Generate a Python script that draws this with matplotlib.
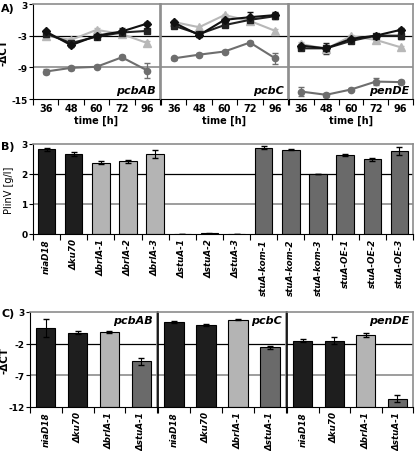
import numpy as np
import matplotlib
matplotlib.use("Agg")
import matplotlib.pyplot as plt

# -------------------------------
# DATA
# -------------------------------
times = ["36", "48", "60", "72", "96"]
genes = ["pcbAB", "pcbC", "penDE"]

# panel A: -dCT over time (niaD18, dku70, dbrlA-1, dstuA-1)
a_niaD18 = [[-2.2, -4.8, -3.0, -2.2, -0.7],
            [-0.5, -2.9, 0.0, 0.5, 0.9],
            [-4.9, -5.4, -3.6, -3.0, -1.9]]
a_ku70 = [[-2.6, -4.4, -3.2, -2.4, -2.1],
          [-1.1, -2.7, -1.0, 0.0, 0.7],
          [-5.4, -5.4, -4.0, -3.0, -3.0]]
a_brlA = [[-3.0, -3.8, -1.9, -2.7, -4.4],
          [-0.4, -1.4, 0.9, -0.2, -2.1],
          [-4.6, -5.5, -3.1, -3.8, -5.2]]
a_stuA = [[-9.8, -9.1, -8.9, -7.1, -9.6],
          [-7.3, -6.6, -6.0, -4.3, -7.3],
          [-13.6, -14.2, -13.2, -11.7, -11.8]]
a_niaD18_err = [[0.3, 0.3, 0.3, 0.3, 0.3],
                [0.3, 0.3, 0.3, 0.9, 0.5],
                [0.3, 0.3, 0.3, 0.3, 0.4]]
a_ku70_err = [[0.3, 0.3, 0.3, 0.9, 0.3],
              [0.3, 0.3, 0.3, 0.3, 0.6],
              [0.4, 1.0, 0.3, 0.3, 0.7]]
a_brlA_err = [[0.3, 0.3, 0.3, 0.3, 0.4],
              [0.3, 0.3, 0.3, 0.3, 0.4],
              [0.4, 0.6, 0.3, 0.3, 0.3]]
a_stuA_err = [[0.4, 0.4, 0.3, 0.4, 1.5],
              [0.3, 0.3, 0.3, 0.3, 1.0],
              [0.8, 0.4, 0.3, 0.7, 0.4]]

# panel B: PlinV production
b_strains = ["niaD18", "Δku70", "ΔbrlA-1", "ΔbrlA-2", "ΔbrlA-3",
             "ΔstuA-1", "ΔstuA-2", "ΔstuA-3",
             "stuA-kom-1", "stuA-kom-2", "stuA-kom-3",
             "stuA-OE-1", "stuA-OE-2", "stuA-OE-3"]
b_values = [2.83, 2.66, 2.38, 2.43, 2.66, 0.0, 0.02, 0.01,
            2.88, 2.81, 2.0, 2.64, 2.49, 2.78]
b_err = [0.05, 0.07, 0.06, 0.05, 0.13, 0.0, 0.03, 0.0,
         0.05, 0.01, 0.01, 0.04, 0.06, 0.13]
b_group = ["wt", "wt", "brlA", "brlA", "brlA", "stuA", "stuA", "stuA",
           "stuA", "stuA", "stuA", "stuA", "stuA", "stuA"]

# panel C: -dCT per strain
c_strains = ["niaD18", "Δku70", "ΔbrlA-1", "ΔstuA-1"]
c_values = [[0.45, -0.25, -0.15, -4.8],
            [1.45, 0.95, 1.8, -2.6],
            [-1.5, -1.5, -0.6, -10.7]]
c_err = [[1.45, 0.3, 0.15, 0.5],
         [0.15, 0.2, 0.1, 0.25],
         [0.25, 0.55, 0.3, 0.55]]
c_group = ["wt", "wt", "brlA", "stuA"]

colors = {"wt": "#1e1e1e", "brlA": "#b4b4b4", "stuA": "#6a6a6a"}
frame_gray = "#8c8c8c"

W, H = 416, 452
fig = plt.figure(figsize=(W / 100, H / 100), dpi=100)


def box(x0, y0, x1, y1):
    # pixel box (top-left origin) -> figure axes
    return fig.add_axes([x0 / W, 1 - y1 / H, (x1 - x0) / W, (y1 - y0) / H])


def style_frame(ax, left_black=False):
    for s in ax.spines.values():
        s.set_color(frame_gray)
        s.set_linewidth(1.2)
    ax.spines["bottom"].set_color("black")
    ax.spines["bottom"].set_linewidth(0.8)
    if left_black:
        ax.spines["left"].set_color("black")
        ax.spines["left"].set_linewidth(0.8)


def cat_ticks(ax, labels, rot=0, italic=False, size=7):
    n = len(labels)
    ax.set_xlim(-0.5, n - 0.5)
    ax.set_xticks(np.arange(n + 1) - 0.5)
    ax.set_xticklabels([])
    ax.set_xticks(np.arange(n), minor=True)
    ax.set_xticklabels(labels, minor=True, rotation=rot, fontsize=size,
                       fontweight="bold", style="italic" if italic else "normal",
                       va="top", ha="center")
    ax.tick_params(axis="x", which="major", direction="out", length=4, width=0.8)
    ax.tick_params(axis="x", which="minor", length=0, pad=3)


# -------------------------------
# PANEL A
# -------------------------------
a_boxes = [(33, 5, 160, 100), (161, 5, 288, 100), (289, 5, 413, 100)]
x = np.arange(len(times))
for i, (x0, y0, x1, y1) in enumerate(a_boxes):
    ax = box(x0, y0, x1, y1)
    ax.axhline(-3, color="black", lw=0.9, zorder=0)
    ax.axhline(-9, color=frame_gray, lw=1.2, zorder=0)
    series = [(a_stuA[i], a_stuA_err[i], "#6e6e6e", "o", 4.5),
              (a_brlA[i], a_brlA_err[i], "#b8b8b8", "^", 5.5),
              (a_ku70[i], a_ku70_err[i], "#222222", "s", 4.5),
              (a_niaD18[i], a_niaD18_err[i], "#111111", "D", 4)]
    for vals, err, col, mk, ms in series:
        ax.errorbar(x, vals, yerr=err, color=col, marker=mk, ms=ms, lw=1.5,
                    ecolor=col, elinewidth=0.9, capsize=2.5)
    ax.set_ylim(-15, 3)
    ax.set_yticks([3, -3, -9, -15])
    cat_ticks(ax, times, size=7)
    ax.set_xlabel("time [h]", fontsize=7, fontweight="bold", labelpad=1)
    ax.text(0.97, 0.04, genes[i], transform=ax.transAxes, ha="right", va="bottom",
            fontsize=8, fontweight="bold", style="italic")
    style_frame(ax, left_black=(i == 0))
    if i == 0:
        ax.set_yticklabels(["3", "-3", "-9", "-15"], fontsize=6.5, fontweight="bold")
        ax.tick_params(axis="y", direction="out", length=3, width=0.8, pad=1)
        ax.set_ylabel("-ΔCT", fontsize=7.5, fontweight="bold")
        ax.yaxis.set_label_coords(-0.19, 0.5)
    else:
        ax.tick_params(axis="y", length=0, labelleft=False)

fig.text(1 / W, 1 - 9 / H, "A)", fontsize=8, fontweight="bold", va="center")

# -------------------------------
# PANEL B
# -------------------------------
ax = box(33, 145, 413, 235)
ax.axhline(2, color="black", lw=0.9, zorder=0)
ax.axhline(1, color=frame_gray, lw=1.2, zorder=0)
xb = np.arange(len(b_strains))
ax.bar(xb, b_values, width=0.64, color=[colors[g] for g in b_group],
       edgecolor="black", linewidth=0.8, zorder=2)
ax.errorbar(xb, b_values, yerr=b_err, fmt="none", ecolor="black",
            elinewidth=0.8, capsize=2.5, zorder=3)
ax.set_ylim(0, 3)
ax.set_yticks([0, 1, 2, 3])
ax.set_yticklabels(["0", "1", "2", "3"], fontsize=6.5, fontweight="bold")
ax.tick_params(axis="y", direction="out", length=3, width=0.8, pad=1)
ax.set_ylabel("PlinV [g/l]", fontsize=7, labelpad=5)
cat_ticks(ax, b_strains, rot=90, italic=True, size=6.3)
style_frame(ax, left_black=True)
fig.text(1 / W, 1 - 147 / H, "B)", fontsize=8, fontweight="bold", va="center")

# -------------------------------
# PANEL C
# -------------------------------
c_boxes = [(30, 313, 157, 408), (158, 313, 286, 408), (287, 313, 413, 408)]
xc = np.arange(len(c_strains))
for i, (x0, y0, x1, y1) in enumerate(c_boxes):
    ax = box(x0, y0, x1, y1)
    ax.axhline(-2, color="black", lw=0.9, zorder=0)
    ax.axhline(-7, color=frame_gray, lw=1.2, zorder=0)
    ax.bar(xc, np.array(c_values[i]) + 12, bottom=-12, width=0.6,
           color=[colors[g] for g in c_group], edgecolor="black",
           linewidth=0.8, zorder=2)
    ax.errorbar(xc, c_values[i], yerr=c_err[i], fmt="none", ecolor="black",
                elinewidth=0.8, capsize=2.5, zorder=3)
    ax.set_ylim(-12, 3)
    ax.set_yticks([3, -2, -7, -12])
    cat_ticks(ax, c_strains, rot=90, italic=True, size=6.3)
    ax.text(0.97, 0.97, genes[i], transform=ax.transAxes, ha="right", va="top",
            fontsize=8, fontweight="bold", style="italic")
    style_frame(ax, left_black=(i == 0))
    if i > 0:
        ax.spines["left"].set_color("black")
    if i == 0:
        ax.set_yticklabels(["3", "-2", "-7", "-12"], fontsize=6.5, fontweight="bold")
        ax.tick_params(axis="y", direction="out", length=3, width=0.8, pad=1)
        ax.set_ylabel("-ΔCT", fontsize=7.5, fontweight="bold")
        ax.yaxis.set_label_coords(-0.16, 0.5)
    else:
        ax.tick_params(axis="y", length=0, labelleft=False)

fig.text(1 / W, 1 - 314 / H, "C)", fontsize=8, fontweight="bold", va="center")

fig.savefig("out.png", dpi=100)
